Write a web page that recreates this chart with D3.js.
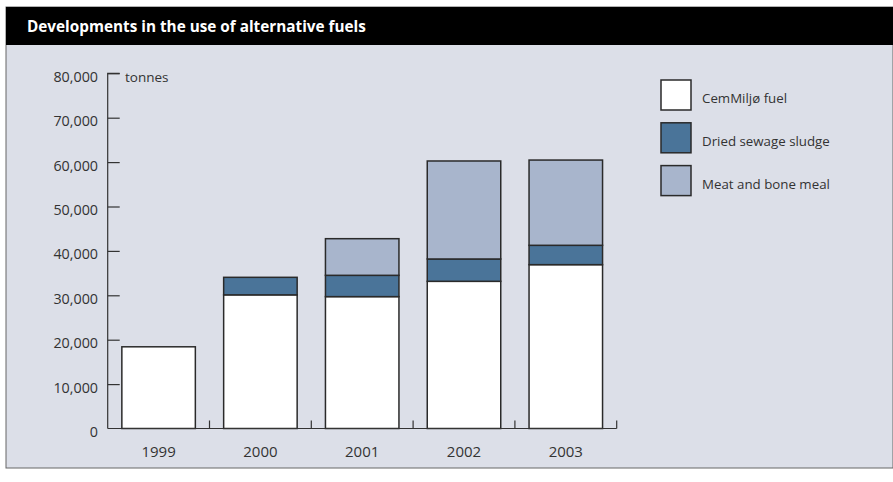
<!DOCTYPE html>
<html>
<head>
<meta charset="utf-8">
<script src="https://cdn.jsdelivr.net/npm/d3@7"></script>
<style>
  body { margin: 0; background: #fff; }
  svg text { font-family: "Open Sans", "DejaVu Sans", sans-serif; fill: #333; }
</style>
</head>
<body>
<script>
// chart data
var years = ["1999", "2000", "2001", "2002", "2003"];
var cemMiljo = [18400, 30100, 29700, 33150, 36900];
var sludge   = [0, 3950, 4800, 5030, 4360];
var meatBone = [0, 0, 8250, 22070, 19200];
var seriesNames = ["CemMiljø fuel", "Dried sewage sludge", "Meat and bone meal"];
var yTicks = [0, 10000, 20000, 30000, 40000, 50000, 60000, 70000, 80000];

(function(){
    var width = 893, height = 482;
    var colors = ["#ffffff", "#4a7499", "#a8b5cc"];

    var svg = d3.select("body").append("svg")
        .attr("width", width)
        .attr("height", height);

    // panel + title bar
    svg.append("rect")
        .attr("x", 6).attr("y", 7)
        .attr("width", width - 6).attr("height", 461)
        .attr("fill", "#dcdfe8")
        .attr("stroke", "#666").attr("stroke-width", 1);
    svg.append("rect")
        .attr("x", 6).attr("y", 7)
        .attr("width", width - 6).attr("height", 38)
        .attr("fill", "#000");
    svg.append("text")
        .attr("x", 27).attr("y", 31.5)
        .style("fill", "#fff")
        .style("font-weight", "bold")
        .style("font-size", "15.3px")
        .text("Developments in the use of alternative fuels");

    var x = d3.scaleBand()
        .domain(years)
        .range([107.7, 616.7])
        .paddingInner(0.278)
        .paddingOuter(0.139);

    var y = d3.scaleLinear()
        .domain([0, 80000])
        .range([428.5, 73.3]);

    // stack the three series
    var rows = years.map(function(yr, i){
        return { year: yr, s0: cemMiljo[i], s1: sludge[i], s2: meatBone[i] };
    });
    var stacked = d3.stack().keys(["s0", "s1", "s2"])(rows);

    var layers = svg.selectAll(".layer")
        .data(stacked)
        .enter().append("g")
        .attr("class", "layer")
        .attr("fill", function(d, i){ return colors[i]; });

    layers.selectAll("rect")
        .data(function(d){ return d.filter(function(p){ return p[1] > p[0]; }); })
        .enter().append("rect")
        .attr("x", function(d){ return x(d.data.year); })
        .attr("y", function(d){ return y(d[1]); })
        .attr("width", x.bandwidth())
        .attr("height", function(d){ return y(d[0]) - y(d[1]); })
        .attr("stroke", "#2a2a2a")
        .attr("stroke-width", 1.5);

    // y axis (ticks point into the plot)
    var yAxis = svg.append("g")
        .attr("transform", "translate(107.7,0)")
        .call(d3.axisRight(y).tickValues(yTicks).tickSize(12).tickFormat(""));
    yAxis.select(".domain").attr("stroke", "#333").attr("stroke-width", 1.2)
        .attr("d", "M12," + y(80000) + "H0V" + y(0));
    yAxis.selectAll(".tick line").attr("stroke", "#333").attr("stroke-width", 1.2);
    yAxis.selectAll(".tick").filter(function(d){ return d === 0; }).remove();

    svg.append("g").selectAll("text")
        .data(yTicks)
        .enter().append("text")
        .attr("x", 98)
        .attr("y", function(d){ return y(d) + 8.5; })
        .attr("text-anchor", "end")
        .style("font-size", "14.3px")
        .text(function(d){ return d3.format(",")(d); });

    svg.append("text")
        .attr("x", 125).attr("y", y(80000) + 8.5)
        .style("font-size", "13.5px")
        .text("tonnes");

    // x axis with ticks at band boundaries
    var step = x.step();
    var x0 = x.range()[0];
    svg.append("line")
        .attr("x1", x0).attr("x2", x.range()[1])
        .attr("y1", y(0)).attr("y2", y(0))
        .attr("stroke", "#333").attr("stroke-width", 1.2);
    svg.append("g").selectAll("line")
        .data(years)
        .enter().append("line")
        .attr("x1", function(d, i){ return x0 + (i + 1) * step; })
        .attr("x2", function(d, i){ return x0 + (i + 1) * step; })
        .attr("y1", y(0)).attr("y2", y(0) - 8)
        .attr("stroke", "#333").attr("stroke-width", 1.2);

    svg.append("g").selectAll("text")
        .data(years)
        .enter().append("text")
        .attr("x", function(d){ return x(d) + x.bandwidth() / 2; })
        .attr("y", 457)
        .attr("text-anchor", "middle")
        .style("font-size", "15px")
        .text(function(d){ return d; });

    // legend
    var legend = svg.append("g").selectAll("g")
        .data(seriesNames)
        .enter().append("g")
        .attr("transform", function(d, i){ return "translate(661," + (80 + i * 42.8) + ")"; });
    legend.append("rect")
        .attr("width", 30).attr("height", 30)
        .attr("fill", function(d, i){ return colors[i]; })
        .attr("stroke", "#2a2a2a").attr("stroke-width", 1.5);
    legend.append("text")
        .attr("x", 41).attr("y", 23)
        .style("font-size", "13.3px")
        .text(function(d){ return d; });
})();
</script>
</body>
</html>
